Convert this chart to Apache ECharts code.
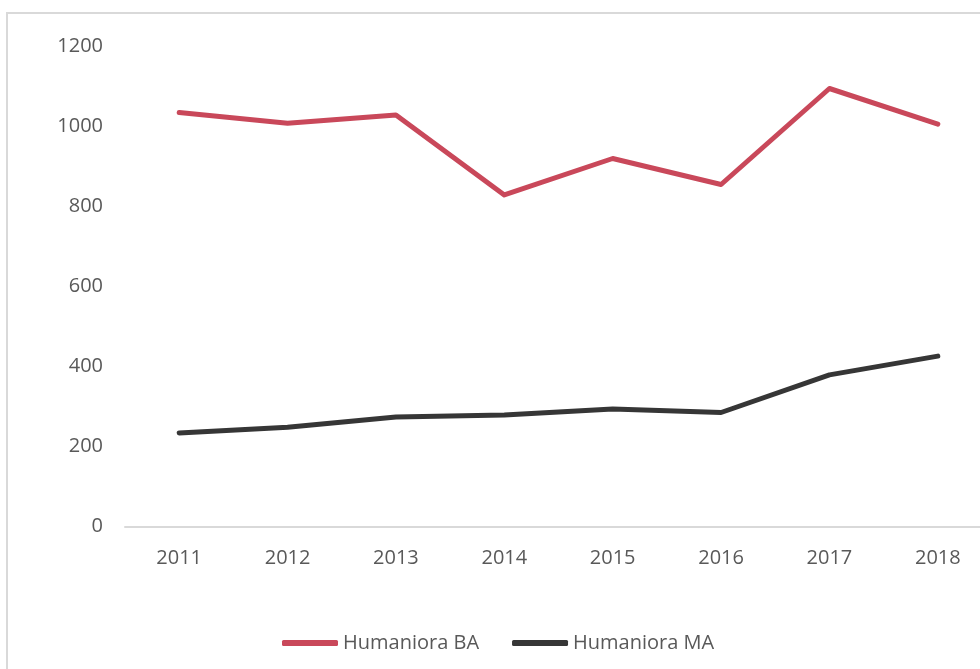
<!DOCTYPE html>
<html>
<head>
<meta charset="utf-8">
<script src="https://cdn.jsdelivr.net/npm/echarts@6/dist/echarts.min.js"></script>
<style>
html,body{margin:0;padding:0;background:#fff;overflow:hidden;width:980px;height:669px;}
#c{width:1000px;height:669px;}
</style>
</head>
<body>
<div id="c"></div>
<script>
const categories = ['2011','2012','2013','2014','2015','2016','2017','2018'];
const seriesNames = ['Humaniora BA','Humaniora MA'];
const baValues = [1035, 1008, 1029, 829, 920, 855, 1095, 1006];
const maValues = [234, 248, 274, 279, 294, 285, 379, 426];
const yTicks = {min: 0, max: 1200, interval: 200};

const chart = echarts.init(document.getElementById('c'), null, {renderer: 'canvas'});
const font = 'Open Sans';
chart.setOption({
  animation: false,
  backgroundColor: '#ffffff',
  graphic: [{
    type: 'rect',
    shape: {x: 7, y: 13, width: 1100, height: 800},
    style: {fill: 'none', stroke: '#d9d9d9', lineWidth: 2},
    silent: true
  }],
  grid: {left: 125, top: 46.5, width: 867, height: 480, containLabel: false},
  legend: {
    left: 277,
    top: 628,
    itemWidth: 56,
    itemHeight: 6,
    itemGap: 33,
    icon: 'roundRect',
    textStyle: {fontFamily: font, fontSize: 20, color: '#595959'},
    data: seriesNames
  },
  xAxis: {
    type: 'category',
    data: categories,
    boundaryGap: true,
    axisLine: {show: true, lineStyle: {color: '#d9d9d9', width: 2}},
    axisTick: {show: false},
    axisLabel: {fontFamily: font, fontSize: 20, color: '#595959', margin: 22}
  },
  yAxis: {
    type: 'value',
    min: yTicks.min,
    max: yTicks.max,
    interval: yTicks.interval,
    axisLine: {show: false},
    axisTick: {show: false},
    splitLine: {show: false},
    axisLabel: {fontFamily: font, fontSize: 20, color: '#595959', margin: 22, formatter: v => String(v)}
  },
  series: [
    {
      name: seriesNames[0],
      type: 'line',
      data: baValues,
      symbol: 'none',
      color: '#C9485A',
      lineStyle: {width: 5, color: '#C9485A', cap: 'round', join: 'round'}
    },
    {
      name: seriesNames[1],
      type: 'line',
      data: maValues,
      symbol: 'none',
      color: '#363636',
      lineStyle: {width: 5, color: '#363636', cap: 'round', join: 'round'}
    }
  ]
});
</script>
</body>
</html>
